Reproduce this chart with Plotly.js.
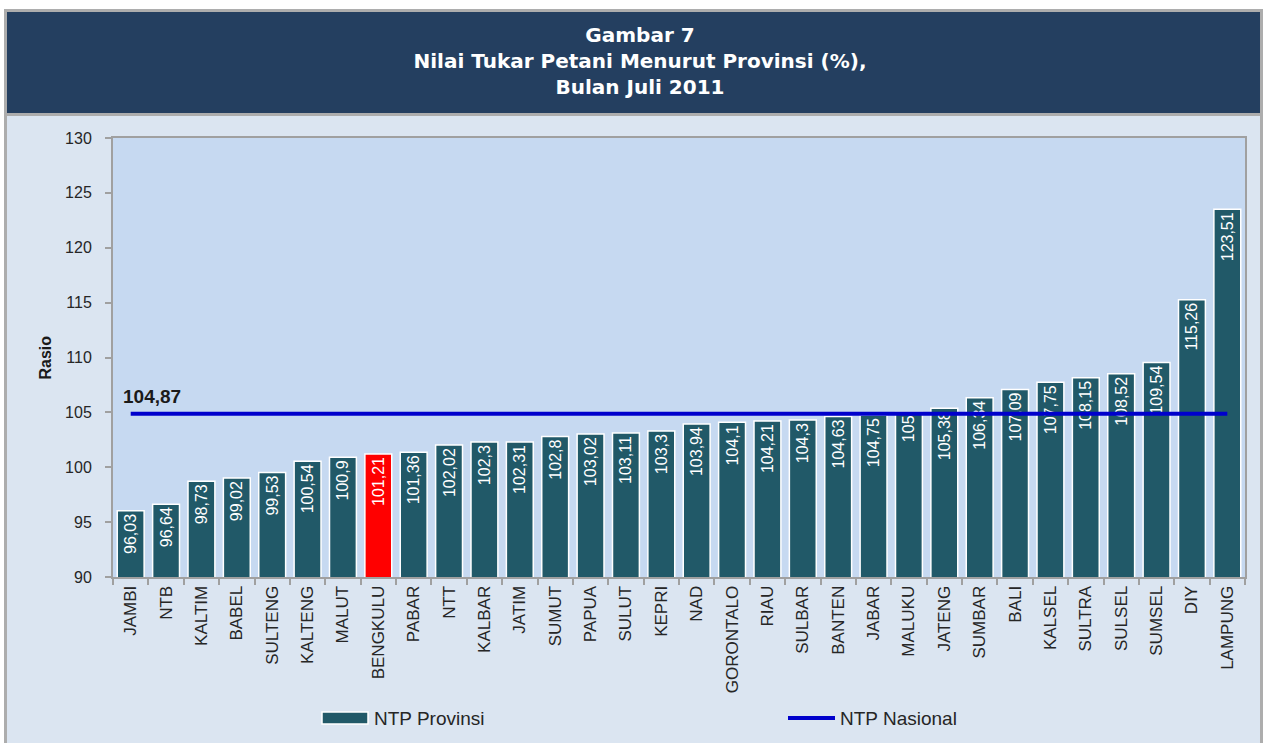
<!DOCTYPE html>
<html>
<head>
<meta charset="utf-8">
<script src="https://cdn.plot.ly/plotly-3.0.1.min.js"></script>
<style>
  html, body { margin: 0; padding: 0; background: #ffffff; }
  #chart { width: 1267px; height: 743px; }
</style>
</head>
<body>
<div id="chart"></div>
<script>
// ---- Data ----
const provinces = ["JAMBI","NTB","KALTIM","BABEL","SULTENG","KALTENG","MALUT","BENGKULU","PABAR","NTT",
  "KALBAR","JATIM","SUMUT","PAPUA","SULUT","KEPRI","NAD","GORONTALO","RIAU","SULBAR",
  "BANTEN","JABAR","MALUKU","JATENG","SUMBAR","BALI","KALSEL","SULTRA","SULSEL","SUMSEL","DIY","LAMPUNG"];
const ntpProvinsi = [96.03,96.64,98.73,99.02,99.53,100.54,100.9,101.21,101.36,102.02,
  102.3,102.31,102.8,103.02,103.11,103.3,103.94,104.1,104.21,104.3,
  104.63,104.75,105,105.38,106.34,107.09,107.75,108.15,108.52,109.54,115.26,123.51];
const ntpNasional = 104.87;
const highlightProvince = "BENGKULU";
const yTicks = [90,95,100,105,110,115,120,125,130];
const seriesNames = ["NTP Provinsi", "NTP Nasional"];

// ---- Layout geometry (pixels) ----
const FW = 1267, FH = 743;
const L = 113, R = 22, T = 138, B = 166;
const W = FW - L - R, H = FH - T - B;
const px = x => (x - L) / W;
const py = y => (T + H - y) / H;

const fmt = v => String(v).replace('.', ',');
const TEAL = '#215968', RED = '#FF0000', BLUE = '#0000CC';
const FONT = 'Liberation Sans, Arial, sans-serif';

const barTrace = {
  type: 'bar',
  name: seriesNames[0],
  x: provinces,
  y: ntpProvinsi,
  text: ntpProvinsi.map(fmt),
  textposition: 'inside',
  insidetextanchor: 'end',
  textangle: -90,
  constraintext: 'none',
  insidetextfont: { family: FONT, size: 16, color: '#ffffff' },
  marker: {
    color: provinces.map(p => p === highlightProvince ? RED : TEAL),
    line: { color: '#ffffff', width: 1.5 }
  },
  hoverinfo: 'x+y'
};

const lineTrace = {
  type: 'scatter',
  mode: 'lines',
  name: seriesNames[1],
  x: [provinces[0], provinces[provinces.length - 1]],
  y: [ntpNasional, ntpNasional],
  line: { color: BLUE, width: 4 },
  hoverinfo: 'y'
};

const layout = {
  width: FW, height: FH,
  margin: { l: L, r: R, t: T, b: B, pad: 0 },
  paper_bgcolor: '#ffffff',
  plot_bgcolor: '#C6D9F1',
  showlegend: false,
  bargap: 0.24,
  font: { family: FONT, color: '#262626' },
  title: {
    text: '<b>Gambar 7<br>Nilai Tukar Petani Menurut Provinsi (%),<br>Bulan Juli 2011</b>',
    font: { family: 'DejaVu Sans, sans-serif', size: 20, color: '#ffffff' },
    xref: 'container', yref: 'container',
    x: 640 / FW, xanchor: 'center',
    y: 1 - 42 / FH, yanchor: 'middle'
  },
  xaxis: {
    type: 'category',
    tickangle: -90,
    tickfont: { family: FONT, size: 17, color: '#262626' },
    ticks: 'outside', ticklen: 6, tickcolor: '#A0A0A0', tickwidth: 2,
    tickson: 'boundaries',
    showline: true, linecolor: '#A0A0A0', linewidth: 2, mirror: true,
    showgrid: false, zeroline: false,
    automargin: false,
    fixedrange: true
  },
  yaxis: {
    range: [90, 130],
    tickvals: yTicks,
    ticktext: yTicks.map(String),
    tickfont: { family: FONT, size: 16, color: '#262626' },
    ticks: 'outside', ticklen: 6, tickcolor: '#A0A0A0', tickwidth: 2,
    ticklabelstandoff: 10,
    showline: true, linecolor: '#A0A0A0', linewidth: 2, mirror: true,
    showgrid: false, zeroline: false,
    automargin: false,
    fixedrange: true
  },
  shapes: [
    // outer frame
    { type: 'rect', xref: 'paper', yref: 'paper', layer: 'below',
      x0: px(5.5), x1: px(1261.5), y0: py(10.5), y1: py(760),
      fillcolor: '#DBE5F1', line: { color: '#ADADAD', width: 3 } },
    // plot area background
    { type: 'rect', xref: 'paper', yref: 'paper', layer: 'below',
      x0: 0, x1: 1, y0: 0, y1: 1,
      fillcolor: '#C6D9F1', line: { width: 0 } },
    // banner
    { type: 'rect', xref: 'paper', yref: 'paper', layer: 'below',
      x0: px(7), x1: px(1260), y0: py(12), y1: py(113),
      fillcolor: '#243F60', line: { width: 0 } },
    // banner bottom rule
    { type: 'line', xref: 'paper', yref: 'paper', layer: 'below',
      x0: px(7), x1: px(1260), y0: py(114.5), y1: py(114.5),
      line: { color: '#ADADAD', width: 3 } },
    // legend swatch: bars
    { type: 'rect', xref: 'paper', yref: 'paper', layer: 'above',
      x0: px(322), x1: px(368), y0: py(712), y1: py(724),
      fillcolor: TEAL, line: { color: '#ffffff', width: 1.5 } },
    // legend swatch: line
    { type: 'line', xref: 'paper', yref: 'paper', layer: 'above',
      x0: px(788), x1: px(835), y0: py(718), y1: py(718),
      line: { color: BLUE, width: 4 } }
  ],
  annotations: [
    { text: '<b>Rasio</b>', xref: 'paper', yref: 'paper',
      x: px(45), y: 0.5, xanchor: 'center', yanchor: 'middle',
      textangle: -90, showarrow: false,
      font: { family: FONT, size: 16, color: '#1a1a1a' } },
    { text: '<b>' + fmt(ntpNasional) + '</b>', xref: 'paper', yref: 'y',
      x: px(121), y: ntpNasional, xanchor: 'left', yanchor: 'middle',
      yshift: 17, showarrow: false,
      font: { family: FONT, size: 19, color: '#1a1a1a' } },
    { text: seriesNames[0], xref: 'paper', yref: 'paper',
      x: px(372), y: py(718), xanchor: 'left', yanchor: 'middle',
      showarrow: false, font: { family: FONT, size: 19, color: '#262626' } },
    { text: seriesNames[1], xref: 'paper', yref: 'paper',
      x: px(838), y: py(718), xanchor: 'left', yanchor: 'middle',
      showarrow: false, font: { family: FONT, size: 19, color: '#262626' } }
  ]
};

Plotly.newPlot('chart', [barTrace, lineTrace], layout, { displayModeBar: false, staticPlot: true });
</script>
</body>
</html>
